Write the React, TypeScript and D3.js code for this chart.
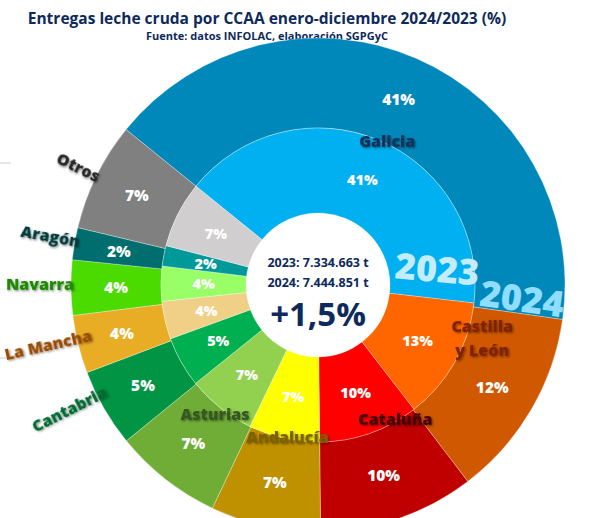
import React from 'react';
import * as d3 from 'd3';

// share of raw milk deliveries by region, % (read from the rings)
const regions = ['Galicia', 'Castilla y León', 'Cataluña', 'Andalucía', 'Asturias', 'Cantabria', 'Castilla La Mancha', 'Navarra', 'Aragón', 'Otros'];
const share2023 = [41.0, 12.7, 10.3, 7.3, 7.1, 5.2, 3.9, 3.6, 2.1, 6.8];
const share2024 = [41.4, 12.4, 10.2, 7.2, 7.1, 5.1, 3.8, 3.6, 2.1, 7.1];
const totals = ['2023: 7.334.663 t', '2024: 7.444.851 t'];
const change = '+1,5%';

const colors2023 = ['#00B0F0', '#FF6600', '#FF0000', '#FFFF00', '#92D050', '#00B050', '#F0CF86', '#99FF66', '#009999', '#D0CECE'];
const colors2024 = ['#0088BB', '#D05800', '#C00000', '#BF9000', '#70AD36', '#009444', '#E8AD25', '#4CDB00', '#006E6E', '#808080'];
const nameColors = ['#14305A', '#7F2100', '#4A0000', '#7F6000', '#385723', '#006A32', '#9A4B00', '#1E8C00', '#003A3A', '#262626'];

// name label placement relative to the 2024 slice: angle shift (deg), radius, tangent rotation
const nameShift = [2.3, -13, -11, -1, 0.5, 3.3, 1.3, 0.8, 0.7, 0];
const nameRadius = [159, 172, 155, 155, 165, 278, 232, 278, 272, 267];
const nameTangent = [false, false, false, false, false, true, true, true, true, true];

const W = 604;
const H = 518;
const cx = 318;
const cy = 285;
const rHole = 72;
const rMid = 157;
const rOut = 247;
const start = (-51 * Math.PI) / 180;
const FONT = '"Open Sans", "Noto Sans", sans-serif';

export default function App() {
  const pie = d3.pie<number>().sort(null).startAngle(start).endAngle(start + 2 * Math.PI);
  const inner = pie(share2023);
  const outer = pie(share2024);
  const arcIn = d3.arc<d3.PieArcDatum<number>>().innerRadius(rHole).outerRadius(rMid);
  const arcOut = d3.arc<d3.PieArcDatum<number>>().innerRadius(rMid).outerRadius(rOut);
  const pct = (v: number) => d3.format('.0f')(v) + '%';

  const nameLabels = outer.map((d, i) => {
    const mid = ((d.startAngle + d.endAngle) / 2) * 180 / Math.PI + nameShift[i];
    const a = (mid * Math.PI) / 180;
    const x = Math.sin(a) * nameRadius[i];
    const y = -Math.cos(a) * nameRadius[i];
    const rot = nameTangent[i] ? mid - 270 : 0;
    return { x, y, rot, i };
  });

  return (
    <svg width={W} height={H} style={{ position: 'absolute', left: 0, top: 0, background: '#fff' }} fontFamily={FONT}>
      <defs>
        <filter id="sh" x="-20%" y="-40%" width="140%" height="180%">
          <feDropShadow dx="1.2" dy="1.2" stdDeviation="0.9" floodColor="#000" floodOpacity="0.45" />
        </filter>
      </defs>

      <text x={267} y={24} textAnchor="middle" fontSize={15.5} fontWeight={700} fill="#0E2A5C">
        Entregas leche cruda por CCAA enero-diciembre 2024/2023 (%)
      </text>
      <text x={267} y={40} textAnchor="middle" fontSize={11} fontWeight={700} fill="#0E2A5C">
        Fuente: datos INFOLAC, elaboración SGPGyC
      </text>

      <line x1={0} x2={11} y1={163} y2={163} stroke="#C9CDE0" strokeWidth={1} />
      <line x1={0} x2={11} y1={358} y2={358} stroke="#C9CDE0" strokeWidth={1} />

      <g transform={`translate(${cx},${cy})`}>
        {outer.map((d, i) => (
          <path key={'o' + i} d={arcOut(d) || ''} fill={colors2024[i]} stroke="#fff" strokeOpacity={0.5} strokeWidth={0.6} />
        ))}
        {inner.map((d, i) => (
          <path key={'i' + i} d={arcIn(d) || ''} fill={colors2023[i]} stroke="#fff" strokeOpacity={0.5} strokeWidth={0.6} />
        ))}

        {outer.map((d, i) => {
          const [x, y] = arcOut.centroid(d);
          return (
            <text key={'po' + i} x={x} y={y} dy="0.35em" textAnchor="middle" fontSize={15.5} fontWeight={800} fill="#fff">
              {pct(d.data)}
            </text>
          );
        })}
        {inner.map((d, i) => {
          const [x, y] = arcIn.centroid(d);
          return (
            <text key={'pi' + i} x={x} y={y} dy="0.35em" textAnchor="middle" fontSize={14.5} fontWeight={800} fill="#fff">
              {pct(d.data)}
            </text>
          );
        })}

        <text x={118} y={-3} textAnchor="middle" fontSize={36} fontWeight={800} fill="#C4ECFF" transform="rotate(5,118,-3)">
          2023
        </text>
        <text x={204} y={14} dy="0.35em" textAnchor="middle" fontSize={36} fontWeight={800} fill="#8FDDFF" transform="rotate(8,204,14)">
          2024
        </text>

        {nameLabels.map(({ x, y, rot, i }) => {
          if (i === 1) {
            return (
              <text key={'n' + i} x={x} y={y} textAnchor="middle" fontSize={16} fontWeight={800} fill={nameColors[i]} filter="url(#sh)">
                <tspan x={x} dy="-0.25em">Castilla</tspan>
                <tspan x={x} dy="1.45em">y León</tspan>
              </text>
            );
          }
          // only the end of the long name fits on the page
          const name = i === 6 ? regions[i].replace('Castilla ', '') : regions[i];
          return (
            <text
              key={'n' + i}
              x={x}
              y={y}
              dy="0.35em"
              textAnchor={i === 6 ? 'end' : 'middle'}
              fontSize={16}
              fontWeight={800}
              fill={nameColors[i]}
              filter="url(#sh)"
              transform={rot ? `rotate(${rot},${x},${y})` : undefined}
            >
              {name}
            </text>
          );
        })}

        <text x={0} y={-18} textAnchor="middle" fontSize={12.5} fontWeight={700} fill="#0E2A5C">{totals[0]}</text>
        <text x={0} y={2} textAnchor="middle" fontSize={12.5} fontWeight={700} fill="#0E2A5C">{totals[1]}</text>
        <text x={0} y={41} textAnchor="middle" fontSize={33} fontWeight={700} fill="#0E2A5C">{change}</text>
      </g>
    </svg>
  );
}
